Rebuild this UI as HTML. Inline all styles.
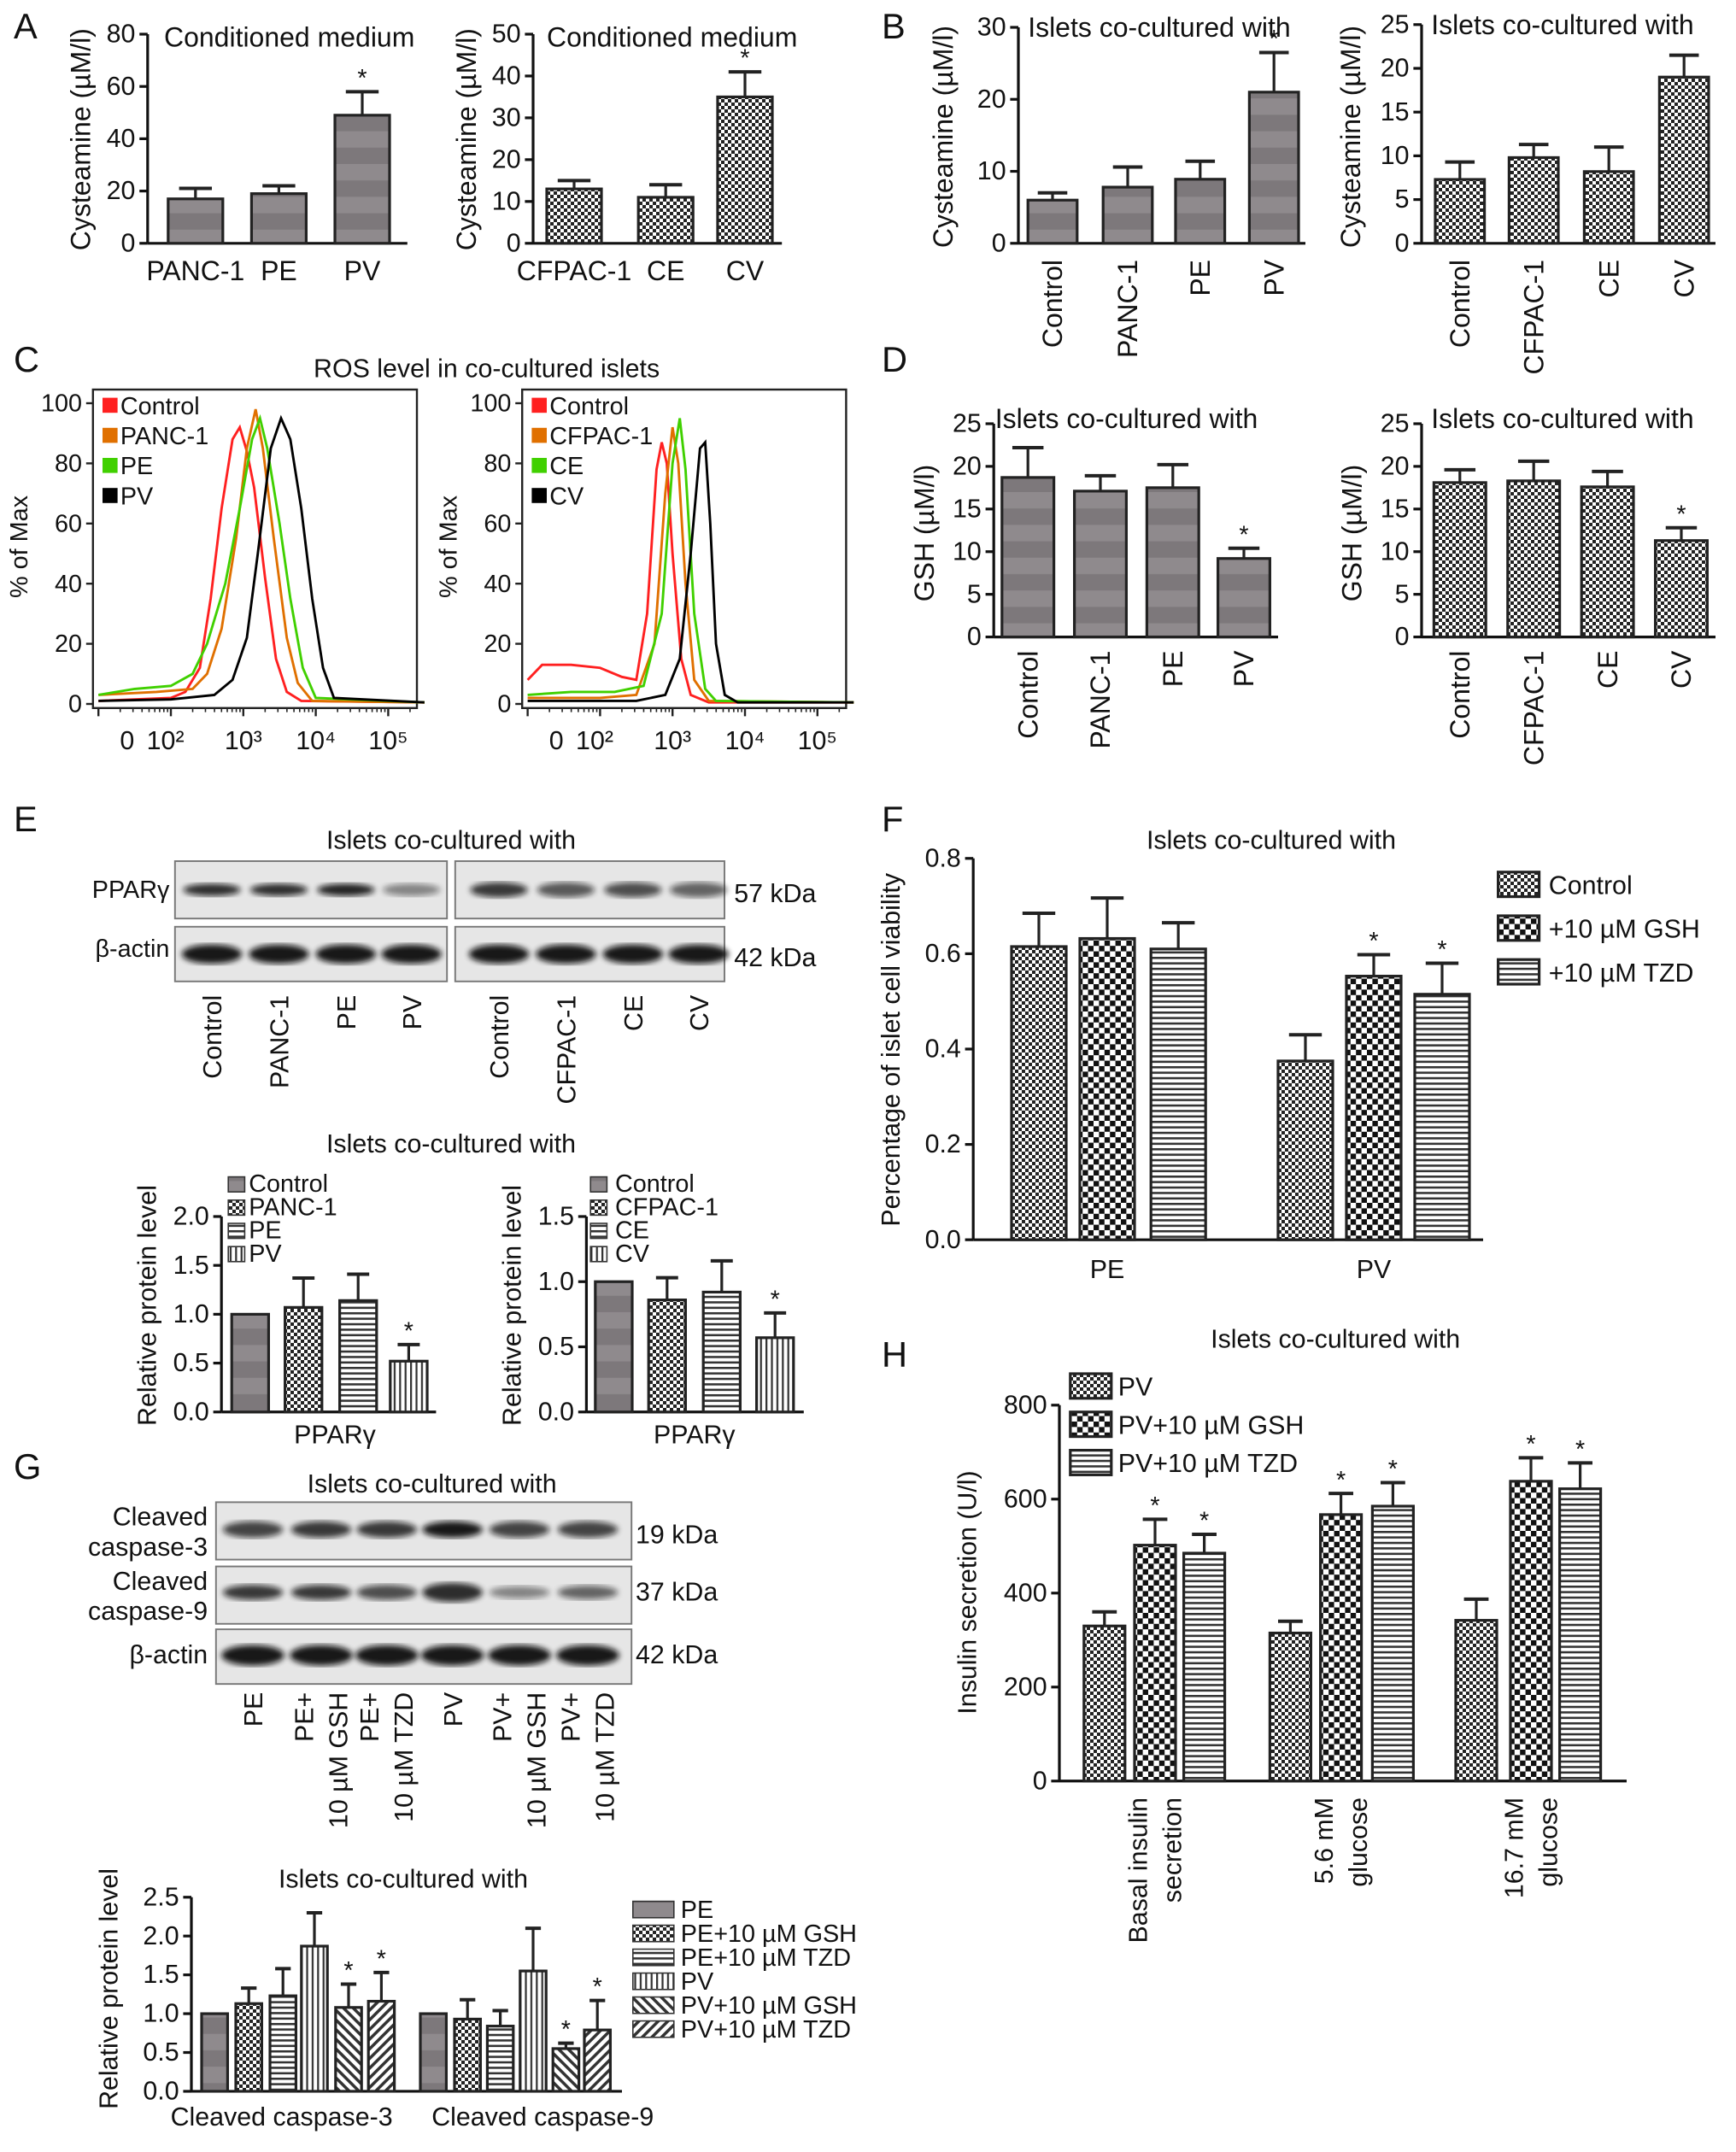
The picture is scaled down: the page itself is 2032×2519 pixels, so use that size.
<!DOCTYPE html>
<html><head><meta charset="utf-8"><style>
html,body{margin:0;padding:0;background:#fff}
svg{display:block}
text{font-family:"Liberation Sans",Arial,sans-serif;fill:#111}
</style></head><body>
<svg id="fig" xmlns="http://www.w3.org/2000/svg" width="2032" height="2519" viewBox="0 0 1270 1574.4">
<defs>
<pattern id="pGray" width="10" height="24" patternUnits="userSpaceOnUse"><rect width="10" height="24" fill="#8f8a8d"/><rect y="12" width="10" height="12" fill="#7d787b"/></pattern>
<pattern id="pCheck" width="5" height="5" patternUnits="userSpaceOnUse"><rect width="5" height="5" fill="#fff"/><rect width="2.5" height="2.5" fill="#222"/><rect x="2.5" y="2.5" width="2.5" height="2.5" fill="#222"/></pattern>
<pattern id="pBig" width="8" height="8" patternUnits="userSpaceOnUse"><rect width="8" height="8" fill="#fff"/><rect width="4" height="4" fill="#111"/><rect x="4" y="4" width="4" height="4" fill="#111"/></pattern>
<pattern id="pH" width="4" height="4" patternUnits="userSpaceOnUse"><rect width="4" height="4" fill="#fff"/><rect width="4" height="1.6" fill="#333"/></pattern>
<pattern id="pV" width="4" height="4" patternUnits="userSpaceOnUse"><rect width="4" height="4" fill="#fff"/><rect width="1.4" height="4" fill="#333"/></pattern>
<pattern id="pD" width="5" height="5" patternUnits="userSpaceOnUse" patternTransform="rotate(45)"><rect width="5" height="5" fill="#fff"/><rect width="5" height="2.2" fill="#333"/></pattern>
<pattern id="pD2" width="5" height="5" patternUnits="userSpaceOnUse" patternTransform="rotate(-45)"><rect width="5" height="5" fill="#fff"/><rect width="5" height="2.2" fill="#333"/></pattern>
<filter id="blur"><feGaussianBlur stdDeviation="2.2"/></filter>
</defs>
</svg>
<script>
// ---------- data ----------
const aLeftCats=['PANC-1','PE','PV'];const aLeftVals=[17,19,49];const aLeftErr=[4,3,9];
const aRightCats=['CFPAC-1','CE','CV'];const aRightVals=[13,11,35];const aRightErr=[2,3,6];
const bLeftCats=['Control','PANC-1','PE','PV'];const bLeftVals=[6,7.8,8.9,21];const bLeftErr=[1,2.8,2.5,5.5];
const bRightCats=['Control','CFPAC-1','CE','CV'];const bRightVals=[7.3,9.8,8.2,19];const bRightErr=[2,1.5,2.8,2.5];
const dLeftVals=[18.7,17.1,17.5,9.2];const dLeftErr=[3.5,1.8,2.7,1.2];
const dRightVals=[18.1,18.3,17.6,11.3];const dRightErr=[1.5,2.3,1.8,1.5];
const eLeftVals=[1,1.07,1.14,0.52];const eLeftErr=[0,0.3,0.27,0.17];
const eRightVals=[1,0.86,0.92,0.57];const eRightErr=[0,0.17,0.24,0.19];
const fSeries=['Control','+10 µM GSH','+10 µM TZD'];const fGroups=['PE','PV'];
const fPE=[0.615,0.632,0.61];const fPEErr=[0.07,0.085,0.055];
const fPV=[0.375,0.553,0.515];const fPVErr=[0.055,0.045,0.065];
const gSeries=['PE','PE+10 µM GSH','PE+10 µM TZD','PV','PV+10 µM GSH','PV+10 µM TZD'];
const gC3=[1,1.13,1.23,1.87,1.08,1.16];const gC3Err=[0,0.2,0.35,0.43,0.3,0.37];
const gC9=[1,0.93,0.84,1.55,0.55,0.79];const gC9Err=[0,0.25,0.2,0.55,0.07,0.38];
const hSeries=['PV','PV+10 µM GSH','PV+10 µM TZD'];
const hBasal=[330,502,485];const hBasalErr=[30,55,40];
const h56=[315,567,585];const h56Err=[25,45,50];
const h167=[342,638,622];const h167Err=[45,50,55];
// flow: [log10 fluorescence, % of max]
const flowLeftControl=[[1,1],[2,2],[2.2,4],[2.4,12],[2.55,35],[2.7,65],[2.85,88],[2.95,92],[3.05,84],[3.15,72],[3.3,42],[3.45,15],[3.6,4],[3.8,1],[5.5,0.5]];
const flowLeftPanc=[[1,3],[1.8,4],[2.3,5],[2.5,10],[2.7,25],[2.9,55],[3.05,85],[3.17,98],[3.27,85],[3.42,55],[3.6,22],[3.75,7],[3.95,1],[5.5,0.5]];
const flowLeftPE=[[1,3],[1.5,5],[2,6],[2.3,10],[2.5,20],[2.75,40],[2.95,65],[3.12,88],[3.23,95],[3.33,85],[3.5,60],[3.65,35],[3.82,12],[4.0,2],[5.5,0.5]];
const flowLeftPV=[[1,1],[2,1.5],[2.6,3],[2.85,8],[3.05,22],[3.2,50],[3.38,85],[3.52,95],[3.65,88],[3.8,65],[3.95,35],[4.1,12],[4.25,2],[5.5,0.5]];
const flowRightControl=[[1,8],[1.2,13],[1.6,13],[2.0,12],[2.3,9],[2.5,8],[2.65,30],[2.78,78],[2.85,87],[2.92,80],[3.0,50],[3.12,15],[3.25,3],[3.5,0.5],[5.5,0.5]];
const flowRightCfpac=[[1,2],[2,2],[2.5,3],[2.75,20],[2.9,70],[3.0,92],[3.08,80],[3.18,40],[3.3,8],[3.5,1],[5.5,0.5]];
const flowRightCE=[[1,3],[1.6,4],[2.2,4],[2.6,6],[2.85,30],[3.0,80],[3.1,95],[3.18,78],[3.3,30],[3.45,5],[3.6,1],[5.5,0.5]];
const flowRightCV=[[1,1],[2.5,1],[2.9,3],[3.1,15],[3.25,50],[3.38,85],[3.45,87],[3.52,60],[3.6,20],[3.72,3],[3.9,0.5],[5.5,0.5]];

// ---------- helpers ----------
const NS='http://www.w3.org/2000/svg';const svg=document.getElementById('fig');
function el(tag,attrs,parent,txt){const e=document.createElementNS(NS,tag);for(const k in attrs)e.setAttribute(k,attrs[k]);if(txt!==undefined)e.textContent=txt;(parent||svg).appendChild(e);return e;}
function grp(name){const g=el('g',{});


return g;}
function txt(p,x,y,s,size,anchor,name,rot){const a={x:x,y:y,'font-size':size||18,'text-anchor':anchor||'start'};if(rot)a.transform='rotate(-90 '+x+' '+y+')';const t=el('text',a,p,s);


return t;}
function axisY(p,ax,yT,yB,max,ticks,dec,fs,xEnd){
  const ys=v=>yB-v/max*(yB-yT);
  const ax1=el('line',{x1:ax,y1:yT,x2:ax,y2:yB,stroke:'#111','stroke-width':2},p);
  
  
  ticks.forEach(v=>{el('line',{x1:ax-6,y1:ys(v),x2:ax,y2:ys(v),stroke:'#111','stroke-width':2},p);
    txt(p,ax-9,ys(v)+6,dec?v.toFixed(dec):String(v),fs||19,'end','y-tick-label');});
  const bl=el('line',{x1:ax,y1:yB,x2:xEnd,y2:yB,stroke:'#111','stroke-width':2},p);
  
  
  return ys;}
function bar(p,ys,cx,w,v,e,fill,star,name){
  const y=ys(v),yb=ys(0);
  if(e>0){const ye=ys(v+e);el('line',{x1:cx,y1:y,x2:cx,y2:ye,stroke:'#222','stroke-width':2},p);el('line',{x1:cx-w*0.3,y1:ye,x2:cx+w*0.3,y2:ye,stroke:'#222','stroke-width':2.5},p);}
  const r=el('rect',{x:cx-w/2,y:y,width:w,height:yb-y,fill:fill,stroke:'#222','stroke-width':2},p);
  
  
  if(star){txt(p,cx,ys(v+e)-4,'*',18,'middle','significance-star');}
}
function simpleChart(name,ax,yT,yB,max,ticks,dec,xEnd,cxs,w,vals,errs,fills,stars){
  const g=grp(name);const ys=axisY(g,ax,yT,yB,max,ticks,dec,19,xEnd);
  vals.forEach((v,i)=>bar(g,ys,cxs[i],w,v,errs[i],fills[i],stars[i],name+'-bar-'+i));return g;}
function rotLabels(g,cxs,y,labels,fs){labels.forEach((l,i)=>txt(g,cxs[i]+7,y,l,fs||19,'end','x-tick-label',true));}

// ---------- panel letters ----------
[['A',10,28],['B',645,28],['C',10,272],['D',645,272],['E',10,608],['F',645,608],['G',10,1082],['H',645,1000]].forEach(a=>txt(svg,a[1],a[2],a[0],26,'start','panel-letter-'+a[0].toLowerCase()));

// ---------- Panel A ----------
let g=simpleChart('panel-a-left',108,25,178,80,[0,20,40,60,80],0,298,[143,204,265],40,aLeftVals,aLeftErr,['url(#pGray)','url(#pGray)','url(#pGray)'],[0,0,1]);
txt(g,120,34,'Conditioned medium',20,'start','chart-title');
aLeftCats.forEach((c,i)=>txt(g,[143,204,265][i],205,c,20,'middle','x-tick-label'));
txt(g,66,102,'Cysteamine (µM/l)',20,'middle','y-axis-title',true);
g=simpleChart('panel-a-right',390,25,178,50,[0,10,20,30,40,50],0,572,[420,487,545],40,aRightVals,aRightErr,['url(#pCheck)','url(#pCheck)','url(#pCheck)'],[0,0,1]);
txt(g,400,34,'Conditioned medium',20,'start','chart-title');
aRightCats.forEach((c,i)=>txt(g,[420,487,545][i],205,c,20,'middle','x-tick-label'));
txt(g,348,102,'Cysteamine (µM/l)',20,'middle','y-axis-title',true);

// ---------- Panel B ----------
g=simpleChart('panel-b-left',745,20,178,30,[0,10,20,30],0,955,[770,825,878,932],36,bLeftVals,bLeftErr,['url(#pGray)','url(#pGray)','url(#pGray)','url(#pGray)'],[0,0,0,1]);
txt(g,752,27,'Islets co-cultured with',20,'start','chart-title');
rotLabels(g,[770,825,878,932],190,bLeftCats,20);
txt(g,697,100,'Cysteamine (µM/l)',20,'middle','y-axis-title',true);
g=simpleChart('panel-b-right',1040,18,178,25,[0,5,10,15,20,25],0,1255,[1068,1122,1177,1232],36,bRightVals,bRightErr,['url(#pCheck)','url(#pCheck)','url(#pCheck)','url(#pCheck)'],[0,0,0,0]);
txt(g,1047,25,'Islets co-cultured with',20,'start','chart-title');
rotLabels(g,[1068,1122,1177,1232],190,bRightCats,20);
txt(g,995,100,'Cysteamine (µM/l)',20,'middle','y-axis-title',true);

// ---------- Panel C ----------
function flow(name,x0,curves,colors,labels){
  const g=grp(name);const bx0=x0,bx1=x0+237,by0=285,by1=518;
  el('rect',{x:bx0,y:by0,width:237,height:233,fill:'none',stroke:'#222','stroke-width':1.5},g);
  const xs=l=>x0+110+(l-3)*53, ys=p=>515-p*2.2;
  [0,20,40,60,80,100].forEach(v=>{el('line',{x1:bx0-5,y1:ys(v),x2:bx0,y2:ys(v),stroke:'#222','stroke-width':1.5},g);txt(g,bx0-8,ys(v)+6,String(v),18,'end','y-tick-label');});
  for(let d=1;d<=5;d++){el('line',{x1:xs(d),y1:by1,x2:xs(d),y2:by1+6,stroke:'#222','stroke-width':1.5},g);for(let k=2;k<10;k++){const xx=xs(d+Math.log10(k));if(xx<bx1)el('line',{x1:xx,y1:by1,x2:xx,y2:by1+3,stroke:'#222','stroke-width':1},g);}}
  const tl=[['0',x0+25],['10²',x0+53],['10³',xs(3)],['10⁴',xs(4)],['10⁵',xs(5)]];
  tl.forEach(t=>txt(g,t[1],548,t[0],19,'middle','x-tick-label'));
  curves.forEach((c,i)=>{const d=c.map((p,j)=>(j?'L':'M')+xs(p[0]).toFixed(1)+' '+ys(p[1]).toFixed(1)).join(' ');
    const pth=el('path',{d:d,fill:'none',stroke:colors[i],'stroke-width':1.8},g);
    
    
    el('rect',{x:x0+7,y:291+i*22,width:11,height:11,fill:colors[i]},g);
    txt(g,x0+20,303+i*22,labels[i],18,'start','legend-entry');});
  txt(g,x0-48,400,'% of Max',18,'middle','y-axis-title',true);
  return g;}
const fc=['#ff2020','#e07000','#40d000','#000'];
flow('panel-c-left',68,[flowLeftControl,flowLeftPanc,flowLeftPE,flowLeftPV],fc,['Control','PANC-1','PE','PV']);
flow('panel-c-right',382,[flowRightControl,flowRightCfpac,flowRightCE,flowRightCV],fc,['Control','CFPAC-1','CE','CV']);
txt(svg,356,276,'ROS level in co-cultured islets',19,'middle','chart-title');

// ---------- Panel D ----------
g=simpleChart('panel-d-left',727,310,466,25,[0,5,10,15,20,25],0,935,[752,805,858,910],38,dLeftVals,dLeftErr,['url(#pGray)','url(#pGray)','url(#pGray)','url(#pGray)'],[0,0,0,1]);
txt(g,728,313,'Islets co-cultured with',20,'start','chart-title');
rotLabels(g,[752,805,858,910],476,bLeftCats,20);
txt(g,683,390,'GSH (µM/l)',20,'middle','y-axis-title',true);
g=simpleChart('panel-d-right',1040,310,466,25,[0,5,10,15,20,25],0,1255,[1068,1122,1176,1230],38,dRightVals,dRightErr,['url(#pCheck)','url(#pCheck)','url(#pCheck)','url(#pCheck)'],[0,0,0,1]);
txt(g,1047,313,'Islets co-cultured with',20,'start','chart-title');
rotLabels(g,[1068,1122,1176,1230],476,bRightCats,20);
txt(g,996,390,'GSH (µM/l)',20,'middle','y-axis-title',true);

// ---------- blots ----------
function blotBox(g,x,y,w,h){el('rect',{x:x,y:y,width:w,height:h,fill:'#e6e6e6',stroke:'#777','stroke-width':1.2},g);}
function band(g,cx,cy,w,h,op){el('ellipse',{cx:cx,cy:cy,rx:w/2,ry:h/2,fill:'#111',opacity:op,filter:'url(#blur)'},g);}
g=grp('panel-e-blot');
txt(g,330,621,'Islets co-cultured with',19,'middle','chart-title');
blotBox(g,128,630,199,42);blotBox(g,333,630,197,42);blotBox(g,128,678,199,40);blotBox(g,333,678,197,40);
const eL=[155,204,253,301],eR=[365,414,463,511];
[0.85,0.85,0.9,0.45].forEach((o,i)=>band(g,eL[i],651,42,9,o));
[0.8,0.65,0.7,0.6].forEach((o,i)=>band(g,eR[i],651,42,11,o));
eL.concat(eR).forEach(x=>band(g,x,698,44,14,0.95));
txt(g,124,657,'PPARγ',18,'end','row-label');txt(g,124,700,'β-actin',18,'end','row-label');
txt(g,537,660,'57 kDa',19,'start','kda-label');txt(g,537,707,'42 kDa',19,'start','kda-label');
rotLabels(g,eL,728,['Control','PANC-1','PE','PV'],19);rotLabels(g,eR,728,['Control','CFPAC-1','CE','CV'],19);

// E bar charts
const eFill=['url(#pGray)','url(#pCheck)','url(#pH)','url(#pV)'];
txt(svg,330,843,'Islets co-cultured with',19,'middle','chart-title');
g=simpleChart('panel-e-left',162,890,1033,2,[0,0.5,1,1.5,2],1,319,[183,222,262,299],27,eLeftVals,eLeftErr,eFill,[0,0,0,1]);
txt(g,245,1056,'PPARγ',19,'middle','x-axis-title');txt(g,114,955,'Relative protein level',19,'middle','y-axis-title',true);
['Control','PANC-1','PE','PV'].forEach((l,i)=>{el('rect',{x:167,y:861+i*17,width:12,height:11,fill:eFill[i],stroke:'#333','stroke-width':1},g);txt(g,182,872+i*17,l,18,'start','legend-entry');});
g=simpleChart('panel-e-right',429,890,1033,1.5,[0,0.5,1,1.5],1,588,[449,488,528,567],27,eRightVals,eRightErr,eFill,[0,0,0,1]);
txt(g,508,1056,'PPARγ',19,'middle','x-axis-title');txt(g,381,955,'Relative protein level',19,'middle','y-axis-title',true);
['Control','CFPAC-1','CE','CV'].forEach((l,i)=>{el('rect',{x:432,y:861+i*17,width:12,height:11,fill:eFill[i],stroke:'#333','stroke-width':1},g);txt(g,450,872+i*17,l,18,'start','legend-entry');});

// ---------- Panel F ----------
g=grp('panel-f');
txt(g,930,621,'Islets co-cultured with',19,'middle','chart-title');
let ys=axisY(g,712,628,907,0.8,[0,0.2,0.4,0.6,0.8],1,19,1085);
const fFill=['url(#pCheck)','url(#pBig)','url(#pH)'];
const fPEx=[760,810,862],fPVx=[955,1005,1055];
fPE.forEach((v,i)=>bar(g,ys,fPEx[i],40,v,fPEErr[i],fFill[i],0,'bar-pe-'+i));
fPV.forEach((v,i)=>bar(g,ys,fPVx[i],40,v,fPVErr[i],fFill[i],i>0,'bar-pv-'+i));
txt(g,810,935,fGroups[0],19,'middle','x-tick-label');txt(g,1005,935,fGroups[1],19,'middle','x-tick-label');
txt(g,658,768,'Percentage of islet cell viability',19,'middle','y-axis-title',true);
fSeries.forEach((s,i)=>{el('rect',{x:1096,y:638+i*32,width:30,height:18,fill:fFill[i],stroke:'#222','stroke-width':2},g);txt(g,1133,654+i*32,s,19,'start','legend-entry');});

// ---------- Panel G blot ----------
g=grp('panel-g-blot');
txt(g,316,1092,'Islets co-cultured with',19,'middle','chart-title');
blotBox(g,158,1099,304,42);blotBox(g,158,1146,304,42);blotBox(g,158,1192,304,40);
const gL=[185,235,283,331,380,430];
[0.75,0.8,0.8,0.95,0.75,0.75].forEach((o,i)=>band(g,gL[i],1119,44,12,o));
[0.8,0.8,0.7,0.85,0.45,0.6].forEach((o,i)=>band(g,gL[i],1165,44,[11,11,11,14,9,10][i],o));
gL.forEach(x=>band(g,x,1211,46,15,0.95));
txt(g,152,1116,'Cleaved',19,'end','row-label');txt(g,152,1138,'caspase-3',19,'end','row-label');
txt(g,152,1163,'Cleaved',19,'end','row-label');txt(g,152,1185,'caspase-9',19,'end','row-label');
txt(g,152,1217,'β-actin',19,'end','row-label');
txt(g,465,1129,'19 kDa',19,'start','kda-label');txt(g,465,1171,'37 kDa',19,'start','kda-label');txt(g,465,1217,'42 kDa',19,'start','kda-label');
const gLab=[['PE'],['PE+','10 µM GSH'],['PE+','10 µM TZD'],['PV'],['PV+','10 µM GSH'],['PV+','10 µM TZD']];
gLab.forEach((ls,i)=>ls.forEach((l,j)=>txt(g,gL[i]+(ls.length>1?-6:7)+j*25,1238,l,19,'end','x-tick-label',true)));

// G bar chart
g=grp('panel-g-chart');
txt(g,295,1381,'Islets co-cultured with',19,'middle','chart-title');
ys=axisY(g,140,1388,1530,2.5,[0,0.5,1,1.5,2,2.5],1,19,455);
const gFill=['url(#pGray)','url(#pCheck)','url(#pH)','url(#pV)','url(#pD)','url(#pD2)'];
const g3x=[157,182,207,230,255,279],g9x=[317,342,366,390,414,437];
gC3.forEach((v,i)=>bar(g,ys,g3x[i],19,v,gC3Err[i],gFill[i],i>=4,'bar-casp3-'+i));
gC9.forEach((v,i)=>bar(g,ys,g9x[i],19,v,gC9Err[i],gFill[i],i>=4,'bar-casp9-'+i));
txt(g,206,1555,'Cleaved caspase-3',19,'middle','x-tick-label');txt(g,397,1555,'Cleaved caspase-9',19,'middle','x-tick-label');
txt(g,86,1455,'Relative protein level',19,'middle','y-axis-title',true);
gSeries.forEach((s,i)=>{el('rect',{x:463,y:1391+i*17.5,width:30,height:12,fill:gFill[i],stroke:'#333','stroke-width':1},g);txt(g,498,1403+i*17.5,s,18,'start','legend-entry');});

// ---------- Panel H ----------
g=grp('panel-h');
txt(g,977,986,'Islets co-cultured with',19,'middle','chart-title');
ys=axisY(g,775,1028,1303,800,[0,200,400,600,800],0,19,1190);
const hFill=['url(#pCheck)','url(#pBig)','url(#pH)'];
[[hBasal,hBasalErr,[808,845,881]],[h56,h56Err,[944,981,1019]],[h167,h167Err,[1080,1120,1156]]].forEach((gr,k)=>gr[0].forEach((v,i)=>bar(g,ys,gr[2][i],30,v,gr[1][i],hFill[i],i>0,'bar-h-'+k+'-'+i)));
[[['Basal insulin','secretion'],845],[['5.6 mM','glucose'],981],[['16.7 mM','glucose'],1120]].forEach(a=>a[0].forEach((l,j)=>txt(g,a[1]-6+j*25,1315,l,19,'end','x-tick-label',true)));
txt(g,714,1165,'Insulin secretion (U/l)',19,'middle','y-axis-title',true);
hSeries.forEach((s,i)=>{el('rect',{x:783,y:1005+i*28,width:30,height:18,fill:hFill[i],stroke:'#222','stroke-width':2},g);txt(g,818,1021+i*28,s,19,'start','legend-entry');});
</script>
</body></html>
